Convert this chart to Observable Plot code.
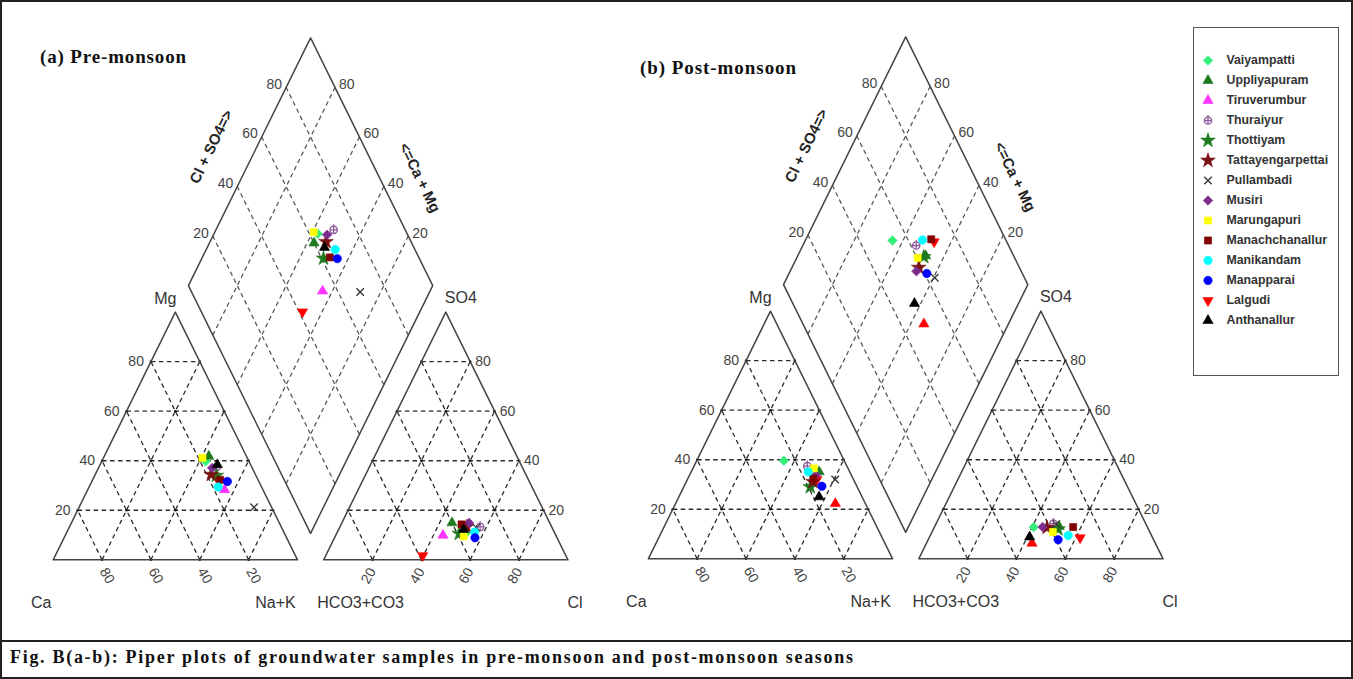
<!DOCTYPE html>
<html><head><meta charset="utf-8">
<script src="https://cdn.jsdelivr.net/npm/d3@7"></script>
<script src="https://cdn.jsdelivr.net/npm/@observablehq/plot@0.6"></script>
<style>
html,body{margin:0;padding:0;background:#fff;}
#fig{position:relative;width:1353px;height:679px;overflow:hidden;background:#fff;}
#frame{position:absolute;left:0;top:0;width:1353px;height:679px;box-sizing:border-box;border:2px solid #222;pointer-events:none;}
#sep{position:absolute;left:0;top:640px;width:1353px;height:2px;background:#222;}
#chart{position:absolute;left:0;top:0;width:1353px;height:640px;}
.title{position:absolute;font-family:"Liberation Serif","Times New Roman",serif;font-weight:bold;font-size:19px;color:#111;white-space:nowrap;}
#legend{position:absolute;left:1193px;top:27px;width:146px;height:349px;box-sizing:border-box;border:1.5px solid #555;background:#fff;}
#caption{position:absolute;left:10px;top:647px;font-family:"Liberation Serif","Times New Roman",serif;font-weight:bold;font-size:18px;white-space:nowrap;color:#111;}
</style></head><body>
<div id="fig">
  <div id="chart"></div>
  <div class="title" id="ta" style="left:40px;top:46px">(a) Pre-monsoon</div>
  <div class="title" id="tb" style="left:640px;top:57px">(b) Post-monsoon</div>
  <div id="legend"></div>
  <div id="sep"></div>
  <div id="caption">Fig. B(a-b): Piper plots of groundwater samples in pre-monsoon and post-monsoon seasons</div>
  <div id="frame"></div>
</div>
<script>
// ---------------- DATA ----------------
const sites = ["Vaiyampatti","Uppliyapuram","Tiruverumbur","Thuraiyur","Thottiyam","Tattayengarpettai","Pullambadi","Musiri","Marungapuri","Manachchanallur","Manikandam","Manapparai","Lalgudi","Anthanallur"];
// Pre-monsoon (% meq)
const preCa  = [17.7, 15.4, 15.7, 14.3, 16.2, 18.1,  7.2, 16.4, 18.3, 15.5, 17.8, 12.9, 16.4, 13.6];
const preMg  = [39.8, 41.8, 28.3, 37.5, 34.0, 34.4, 21.2, 37.1, 41.2, 32.3, 29.4, 31.6, 31.6, 38.4];
const preSO4 = [10.6, 14.9,  9.9, 13.3, 10.6, 13.3, 13.0, 14.9,  9.5, 14.3, 11.2,  8.9,  1.7, 12.2];
const preCl  = [52.8, 45.1, 43.9, 57.4, 50.2, 51.9, 56.0, 52.1, 52.6, 49.3, 56.2, 57.5, 39.7, 51.2];
// Post-monsoon (% meq)
const postCa  = [24.7, 12.5, 12.3, 16.2, 19.2, 17.0,  7.5, 14.5, 14.0, 16.3, 17.0, 14.3, 15.0, 17.6];
const postMg  = [39.6, 35.1, 22.3, 37.4, 29.0, 31.1, 32.0, 33.8, 36.5, 32.4, 35.1, 29.3, 32.0, 25.0];
const postSO4 = [12.8, 13.0,  6.3, 14.2, 12.0, 12.6, 14.0, 12.8, 10.8, 12.8,  9.4,  7.7,  8.5,  8.8];
const postCl  = [40.7, 51.0, 43.2, 48.0, 51.0, 46.2, 49.3, 44.3, 49.5, 56.8, 56.5, 53.2, 61.8, 41.0];
const ticks = [20, 40, 60, 80];

// ---------------- STYLES ----------------
const circledPlus = {draw(ctx, size){ const r = Math.sqrt(size/Math.PI);
  ctx.moveTo(r,0); ctx.arc(0,0,r,0,2*Math.PI);
  ctx.moveTo(-r,0); ctx.lineTo(r,0); ctx.moveTo(0,-r*1.5); ctx.lineTo(0,r); }};
const siteColors = ["#33ee77","#1e7b1e","#ff33ff","#8e5a9e","#1f7a1f","#7a1010","#333333","#7b2d8e","#ffff00","#800000","#00ffff","#0000ff","#ff0000","#000000"];
const postColors = siteColors.map((c,i)=> i===2 ? "#ff0000" : c);
const siteSymbols = ["diamond2","triangle","triangle",circledPlus,"star","star","times","diamond2","square","square","circle","circle","triangle","triangle"];
const siteR = [4.3,3.8,3.8,3.7,4.6,4.6,3.5,4.3,4.0,4.0,4.2,4.2,3.8,3.8];
const siteRotate = [0,0,0,0,0,0,0,0,0,0,0,0,180,0];
const strokeOnly = [false,false,false,true,false,false,true,false,false,false,false,false,false,false];
const drawOrder = [12,0,1,2,3,4,5,6,7,8,9,10,11,13];

// ---------------- GEOMETRY ----------------
const H = Math.sqrt(3)/2, G = 10.7;
const PDX = [0, 243.6], PDY = [0, 0.35];
function cat(p, ca, mg){ const na = 100-ca-mg; return {x: PDX[p] + na + mg/2, y: PDY[p] + mg*H}; }
function an(p, so4, cl){ return {x: PDX[p] + 100 + G + cl + so4/2, y: PDY[p] + so4*H}; }
function dia(p, u, v){ return {x: PDX[p] + 100 + G/2 + 0.5*u - 0.5*v, y: PDY[p] + G*H + H*u + H*v}; }

const outlines = [], grid = [], gridD = [], gdots = [];
const lbl = {catL:[], catB:[], anR:[], anB:[], dL:[], dR:[], names:[], side:[]};
for (const p of [0,1]) {
  const polys = {
    c: [cat(p,100,0), cat(p,0,100), cat(p,0,0)],
    a: [an(p,0,0), an(p,100,0), an(p,0,100)],
    d: [dia(p,0,0), dia(p,100,0), dia(p,100,100), dia(p,0,100)]
  };
  for (const k in polys) { const pts = polys[k]; [...pts, pts[0]].forEach(q => outlines.push({...q, z: p+k})); }
  const seg = (a,b)=>({x1:a.x,y1:a.y,x2:b.x,y2:b.y});
  for (const k of ticks) {
    grid.push(seg(cat(p,100-k,k), cat(p,0,k)));
    grid.push(seg(cat(p,k,0), cat(p,k,100-k)));
    grid.push(seg(cat(p,100-k,0), cat(p,0,100-k)));
    grid.push(seg(an(p,k,0), an(p,k,100-k)));
    grid.push(seg(an(p,0,k), an(p,100-k,k)));
    grid.push(seg(an(p,0,100-k), an(p,100-k,0)));
    gridD.push(seg(dia(p,k,0), dia(p,k,100)));
    gridD.push(seg(dia(p,0,k), dia(p,100,k)));
    lbl.catL.push({...cat(p,100-k,k), t:String(k)});
    lbl.catB.push({...cat(p,k,0), t:String(k)});
    lbl.anR.push({...an(p,k,100-k), t:String(k)});
    lbl.anB.push({...an(p,0,k), t:String(k)});
    lbl.dL.push({...dia(p,k,100), t:String(k)});
    lbl.dR.push({...dia(p,100,k), t:String(k)});
  }
  for (let a=0; a<=100; a+=20) for (let b=0; a+b<=100; b+=20) {
    if (a===100||b===100||a+b===0) continue;
    gdots.push(cat(p,a,b)); gdots.push(an(p,a,b));
  }
  lbl.names.push({...cat(p,0,100), t:"Mg", dx:-10, dy:-13});
  lbl.names.push({...an(p,100,0), t:"SO4", dx:15, dy:-14});
  lbl.names.push({...cat(p,100,0), t:"Ca", dx:-12, dy:43});
  lbl.names.push({...cat(p,0,0), t:"Na+K", dx:-22, dy:43});
  lbl.names.push({...an(p,0,0), t:"HCO3+CO3", dx:37, dy:43});
  lbl.names.push({...an(p,0,100), t:"Cl", dx:7, dy:43});
  lbl.side.push({...dia(p,50,100), t:"Cl + SO4=>", dx:-38, dy:-15, r:-64});
  lbl.side.push({...dia(p,100,50), t:"<=Ca + Mg", dx:48, dy:16, r:64});
}

// sample points (cation triangle, anion triangle, projected diamond point)
const samples = [];
const seasons = [
  {p:0, Ca:preCa, Mg:preMg, SO4:preSO4, Cl:preCl, col: siteColors},
  {p:1, Ca:postCa, Mg:postMg, SO4:postSO4, Cl:postCl, col: postColors}
];
for (const s of seasons) for (const i of drawOrder) {
  const ca=s.Ca[i], mg=s.Mg[i], so4=s.SO4[i], cl=s.Cl[i];
  const base = {i, color: s.col[i]};
  samples.push({...base, ...cat(s.p, ca, mg)});
  samples.push({...base, ...an(s.p, so4, cl)});
  samples.push({...base, ...dia(s.p, cl+so4, ca+mg)});
}

const font = "Liberation Sans, Arial, sans-serif";
const sampleMarks = drawOrder.map(i => Plot.dot(samples.filter(d=>d.i===i), {
  x:"x", y:"y", symbol: siteSymbols[i], r: siteR[i], rotate: siteRotate[i],
  fill: strokeOnly[i] ? "none" : d=>d.color, stroke: d=>d.color, strokeWidth: strokeOnly[i] ? 1.3 : 0.6
}));
const txt = (data, o) => Plot.text(data, {x:"x", y:"y", text:"t", fontFamily: font, fill:"#444", ...o});

const chart = Plot.plot({
  width: 1353, height: 640, margin: 0,
  x: {domain: [-52.7/2.443, (1353-52.7)/2.443], axis: null},
  y: {domain: [(559.3-640)/2.86, 559.3/2.86], axis: null},
  style: {background: "transparent"},
  marks: [
    Plot.link(gridD, {x1:"x1",y1:"y1",x2:"x2",y2:"y2", stroke:"#555", strokeWidth:1.25, strokeDasharray:"4.5,3.5"}),
    Plot.link(grid, {x1:"x1",y1:"y1",x2:"x2",y2:"y2", stroke:"#2a2a2a", strokeWidth:1.3, strokeDasharray:"4.5,3.5"}),
    Plot.dot(gdots, {x:"x", y:"y", r:1.3, fill:"#111"}),
    Plot.line(outlines, {x:"x", y:"y", z:"z", stroke:"#444", strokeWidth:1.5}),
    txt(lbl.catL, {textAnchor:"end", dx:-7, fontSize:14}),
    txt(lbl.anR, {textAnchor:"start", dx:5, fontSize:14}),
    txt(lbl.catB, {rotate:60, dx:5, dy:16, fontSize:14}),
    txt(lbl.anB, {rotate:-60, dx:-4, dy:16, fontSize:14}),
    txt(lbl.dL, {textAnchor:"end", dx:-4, dy:-3, fontSize:14}),
    txt(lbl.dR, {textAnchor:"start", dx:4, dy:-3, fontSize:14}),
    ...lbl.names.map(d => Plot.text([d], {x:"x", y:"y", text:"t", dx:d.dx, dy:d.dy, fontFamily: font, fontSize:16, fill:"#333"})),
    ...lbl.side.map(d => Plot.text([d], {x:"x", y:"y", text:"t", dx:d.dx, dy:d.dy, rotate:d.r, fontFamily: font, fontSize:15, fontWeight:"bold", fill:"#222"})),
    ...sampleMarks
  ]
});
document.getElementById("chart").appendChild(chart);

// legend
const leg = Plot.plot({
  width: 143, height: 346, margin: 0,
  y: {type: "point", domain: sites, range: [15.5, 307.5], axis: null},
  style: {background: "transparent"},
  marks: [
    ...sites.map((s,i) => Plot.dot([s], {y: d=>d, frameAnchor:"left", dx:13.5, symbol: siteSymbols[i], r: siteR[i], rotate: siteRotate[i],
      fill: strokeOnly[i] ? "none" : siteColors[i], stroke: siteColors[i], strokeWidth: strokeOnly[i] ? 1.3 : 0.6})),
    Plot.text(sites, {y: d=>d, frameAnchor:"left", dx:32, text: d=>d, textAnchor:"start", fontFamily: font, fontSize:12.3, fontWeight:"bold", fill:"#333"})
  ]
});
document.getElementById("legend").appendChild(leg);

// fit text widths to reference
function fit(id, target){ const el = document.getElementById(id); const w = el.getBoundingClientRect().width; const n = el.textContent.length; el.style.letterSpacing = ((target - w)/n).toFixed(2) + "px"; }
fit("caption", 845); fit("ta", 147); fit("tb", 157);
</script>
</body></html>
